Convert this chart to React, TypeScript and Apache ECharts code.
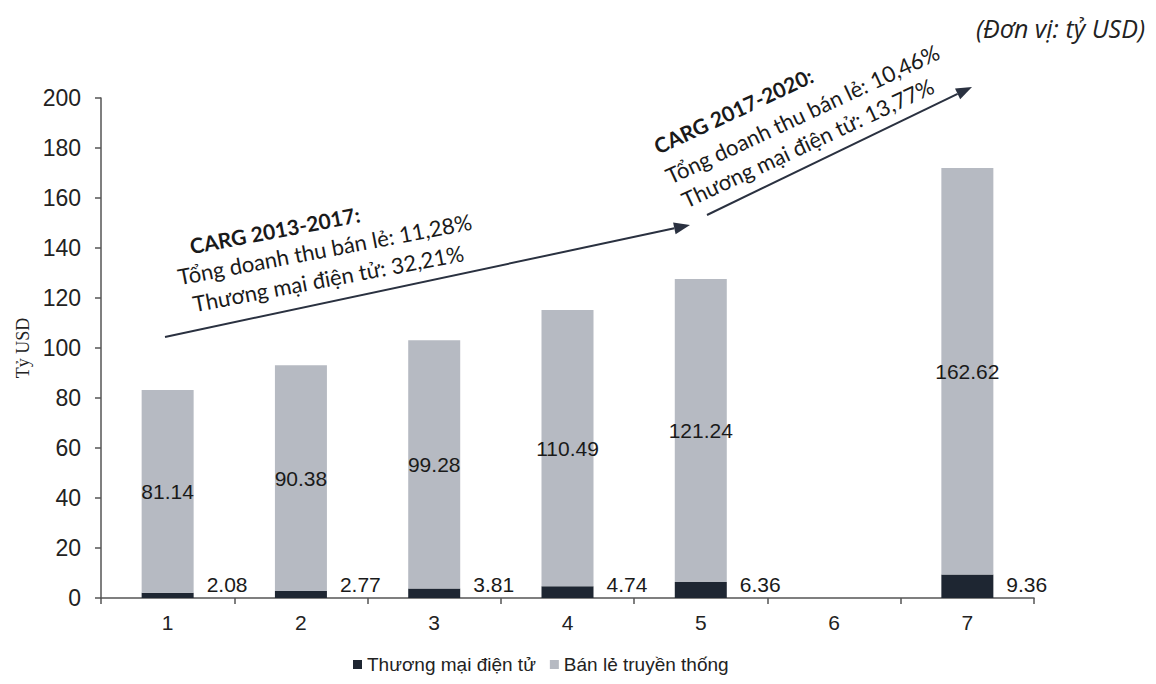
import React, { useEffect, useRef } from "react";
import * as echarts from "echarts";

// Bán lẻ: thương mại điện tử vs bán lẻ truyền thống (tỷ USD)
const categories = ["1", "2", "3", "4", "5", "6", "7"];
const ecommerce: (number | null)[] = [2.08, 2.77, 3.81, 4.74, 6.36, null, 9.36];
const traditional: (number | null)[] = [81.14, 90.38, 99.28, 110.49, 121.24, null, 162.62];
const seriesNames = ["Thương mại điện tử", "Bán lẻ truyền thống"];
const yMin = 0;
const yMax = 200;
const yStep = 20;

const note1 = ["CARG 2013-2017:", "Tổng doanh thu bán lẻ: 11,28%", "Thương mại điện tử: 32,21%"];
const note2 = ["CARG 2017-2020:", "Tổng doanh thu bán lẻ: 10,46%", "Thương mại điện tử: 13,77%"];

const SANS = "'Liberation Sans', Arial, sans-serif";
const HUMAN = "Lato, 'Open Sans', sans-serif";
const DARK = "#1e2632";
const GRAY = "#b6bac2";

function arrow(x1: number, y1: number, x2: number, y2: number) {
  const ang = Math.atan2(y2 - y1, x2 - x1);
  const len = 16;
  const half = 6;
  const bx = x2 - len * Math.cos(ang);
  const by = y2 - len * Math.sin(ang);
  const px = -Math.sin(ang) * half;
  const py = Math.cos(ang) * half;
  return [
    {
      type: "line",
      shape: { x1, y1, x2: bx, y2: by },
      style: { stroke: "#2a3140", lineWidth: 2 },
    },
    {
      type: "polygon",
      shape: {
        points: [
          [x2, y2],
          [bx + px, by + py],
          [bx - px, by - py],
        ],
      },
      style: { fill: "#2a3140" },
    },
  ];
}

function rotatedLine(text: string, x: number, y: number, deg: number, bold = false) {
  return {
    type: "text",
    x,
    y,
    rotation: (deg * Math.PI) / 180,
    style: {
      text,
      font: bold ? `bold 21px ${HUMAN}` : `22px ${HUMAN}`,
      fill: "#1a1a1a",
      textAlign: "left",
      textVerticalAlign: "middle",
    },
  };
}

export default function App() {
  const ref = useRef<HTMLDivElement>(null);

  useEffect(() => {
    if (!ref.current) return;
    const chart = echarts.init(ref.current, null, { renderer: "svg" });

    const option: any = {
      animation: false,
      backgroundColor: "#ffffff",
      grid: { left: 101, right: 122, top: 98, bottom: 86, containLabel: false },
      legend: {
        left: 348,
        top: 650,
        icon: "rect",
        itemWidth: 9,
        itemHeight: 9,
        itemGap: 14,
        itemTextGap: 6,
        textStyle: { fontFamily: SANS, fontSize: 19, color: "#222" },
        data: seriesNames,
      },
      xAxis: {
        type: "category",
        data: categories,
        boundaryGap: true,
        axisLine: { lineStyle: { color: "#555", width: 1.5 } },
        axisTick: { show: true, length: 6, lineStyle: { color: "#555", width: 1.5 } },
        axisLabel: { fontFamily: SANS, fontSize: 21, color: "#222", margin: 14 },
      },
      yAxis: {
        type: "value",
        min: yMin,
        max: yMax,
        interval: yStep,
        name: "Tỷ USD",
        nameLocation: "middle",
        nameGap: 65,
        nameTextStyle: { fontFamily: "'Liberation Serif', 'DejaVu Serif', serif", fontSize: 18, color: "#222" },
        axisLine: { show: true, lineStyle: { color: "#555", width: 1.5 } },
        axisTick: { show: true, length: 6, lineStyle: { color: "#555", width: 1.5 } },
        splitLine: { show: false },
        axisLabel: { fontFamily: SANS, fontSize: 23, color: "#222", margin: 20 },
      },
      series: [
        {
          name: seriesNames[0],
          type: "bar",
          stack: "total",
          barWidth: 52,
          data: ecommerce,
          itemStyle: { color: DARK },
          label: {
            show: true,
            position: ["100%", "100%"],
            align: "left",
            verticalAlign: "bottom",
            offset: [13, -3],
            fontFamily: SANS,
            fontSize: 21,
            color: "#1a1a1a",
            formatter: (p: any) => p.value.toFixed(2),
          },
        },
        {
          name: seriesNames[1],
          type: "bar",
          stack: "total",
          barWidth: 52,
          data: traditional,
          itemStyle: { color: GRAY },
          label: {
            show: true,
            position: "inside",
            fontFamily: SANS,
            fontSize: 21,
            color: "#1a1a1a",
            formatter: (p: any) => p.value.toFixed(2),
          },
        },
      ],
      graphic: [
        {
          type: "text",
          right: 11,
          top: 15,
          style: {
            text: "(Đơn vị: tỷ USD)",
            font: `italic 25px 'Open Sans', sans-serif`,
            fill: "#222",
          },
        },
        ...arrow(165, 337, 690, 225),
        ...arrow(707, 215, 972, 87),
        rotatedLine(note1[0], 190, 246, 10.8, true),
        rotatedLine(note1[1], 178, 277, 10.8),
        rotatedLine(note1[2], 193, 304, 10.8),
        rotatedLine(note2[0], 655, 147, 25, true),
        rotatedLine(note2[1], 667, 177, 25),
        rotatedLine(note2[2], 683, 201, 25),
      ],
    };

    chart.setOption(option);
    return () => chart.dispose();
  }, []);

  return <div ref={ref} style={{ width: 1156, height: 684, margin: -8 }} />;
}
